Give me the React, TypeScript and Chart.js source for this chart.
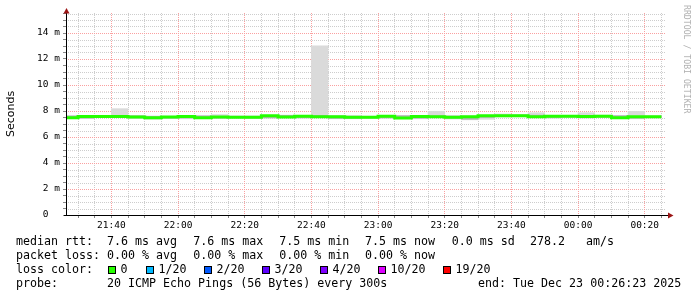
import React, { useEffect, useRef } from "react";
import { Chart, registerables } from "chart.js";

Chart.register(...registerables);

// ---- data ----
const intervalStarts = [
  "21:25", "21:30", "21:35", "21:40", "21:45", "21:50", "21:55", "22:00", "22:05", "22:10",
  "22:15", "22:20", "22:25", "22:30", "22:35", "22:40", "22:45", "22:50", "22:55", "23:00",
  "23:05", "23:10", "23:15", "23:20", "23:25", "23:30", "23:35", "23:40", "23:45", "23:50",
  "23:55", "00:00", "00:05", "00:10", "00:15", "00:20",
];
const intervalEnd = "00:25";

// median rtt, ms
const medianRtt = [
  7.58, 7.49, 7.58, 7.58, 7.58, 7.53, 7.49, 7.53, 7.58, 7.49,
  7.53, 7.51, 7.51, 7.64, 7.53, 7.60, 7.55, 7.55, 7.51, 7.51,
  7.60, 7.47, 7.58, 7.55, 7.51, 7.55, 7.63, 7.63, 7.63, 7.55,
  7.60, 7.60, 7.58, 7.60, 7.49, 7.55,
];
// smoke (outer) ms
const smokeLow = [
  7.46, 7.42, 7.50, 7.50, 7.42, 7.38, 7.42, 7.40, 7.50, 7.44,
  7.46, 7.44, 7.45, 7.58, 7.44, 7.52, 7.40, 7.40, 7.44, 7.44,
  7.52, 7.40, 7.48, 7.38, 7.32, 7.36, 7.54, 7.55, 7.55, 7.44,
  7.50, 7.46, 7.50, 7.50, 7.40, 7.46,
];
const smokeHigh = [
  7.64, 7.60, 7.64, 8.18, 7.66, 7.62, 7.60, 7.62, 7.66, 7.72,
  7.62, 7.62, 7.60, 7.68, 7.62, 13.02, 7.64, 7.63, 7.60, 7.62,
  7.66, 7.58, 7.98, 7.64, 7.62, 7.68, 7.77, 7.72, 7.87, 7.64,
  7.66, 7.87, 7.68, 7.66, 7.97, 7.62,
];
// smoke (core) ms
const coreLow = [
  7.52, 7.45, 7.52, 7.52, 7.48, 7.40, 7.45, 7.46, 7.53, 7.46,
  7.48, 7.47, 7.47, 7.60, 7.48, 7.55, 7.43, 7.44, 7.47, 7.47,
  7.55, 7.44, 7.53, 7.45, 7.36, 7.50, 7.58, 7.58, 7.58, 7.50,
  7.55, 7.48, 7.53, 7.55, 7.44, 7.50,
];
const coreHigh = [
  7.62, 7.55, 7.62, 7.64, 7.62, 7.58, 7.55, 7.58, 7.62, 7.55,
  7.58, 7.56, 7.56, 7.67, 7.58, 7.66, 7.60, 7.60, 7.56, 7.56,
  7.64, 7.52, 7.64, 7.60, 7.56, 7.60, 7.68, 7.68, 7.68, 7.60,
  7.64, 7.66, 7.62, 7.64, 7.58, 7.60,
];

const rangeStart = "21:26:23";
const rangeEnd = "00:26:23";
const xTickLabels = ["21:40", "22:00", "22:20", "22:40", "23:00", "23:20", "23:40", "00:00", "00:20"];
const yTickValues = [0, 2, 4, 6, 8, 10, 12, 14];
const yTickLabels = [" 0  ", " 2 m", " 4 m", " 6 m", " 8 m", "10 m", "12 m", "14 m"];

const rttItems = ["median rtt:", "7.6 ms avg", "7.6 ms max", "7.5 ms min", "7.5 ms now", "0.0 ms sd", "278.2   am/s"];
const lossItems = ["packet loss:", "0.00 % avg", "0.00 % max", "0.00 % min", "0.00 % now"];
const lossLabels = ["0", "1/20", "2/20", "3/20", "4/20", "10/20", "19/20"];
const lossColors = ["#26ff00", "#00b8ff", "#0059ff", "#5e00ff", "#7e00ff", "#dd00ff", "#ff0000"];
const probeItems = ["probe:", "20 ICMP Echo Pings (56 Bytes) every 300s"];
const endText = "end: Tue Dec 23 00:26:23 2025";

// ---- helpers ----
function toMin(s: string): number {
  const p = s.split(":").map(Number);
  let h = p[0];
  if (h < 12) h += 24;
  return h * 60 + p[1] + (p[2] || 0) / 60;
}
function fmt(v: number): string {
  const m = Math.round(v) % 1440;
  const h = Math.floor(m / 60);
  const mm = m % 60;
  return String(h).padStart(2, "0") + ":" + String(mm).padStart(2, "0");
}

const xMin = toMin(rangeStart);
const xMax = toMin(rangeEnd);
const majorX = xTickLabels.map(toMin);
const Y_MAX = 202 / 13;

const MAJOR_GRID = "rgb(250,160,160)";
const MINOR_GRID = "rgb(205,205,205)";

const isMajorX = (v: number) => majorX.some((m) => Math.abs(m - v) < 0.01);
const isMajorY = (v: number) => yTickValues.some((m) => Math.abs(m - v) < 0.001);

const gridPlugin = {
  id: "rrdGrid",
  beforeDatasetsDraw(chart: any) {
    const ctx = chart.ctx;
    const a = chart.chartArea;
    const xs = chart.scales.x;
    const ys = chart.scales.y;
    ctx.save();
    const top = Math.round(a.top);
    const bottom = Math.round(a.bottom);
    const left = Math.round(a.left);
    const right = Math.round(a.right);
    const draw = (major: boolean) => {
      ctx.fillStyle = major ? MAJOR_GRID : MINOR_GRID;
      for (const t of ys.ticks) {
        if (isMajorY(t.value) !== major) continue;
        const y = Math.round(ys.getPixelForValue(t.value));
        if (y >= bottom) continue;
        for (let x = left; x < right; x += 2) ctx.fillRect(x, y, 1, 1);
      }
      for (const t of xs.ticks) {
        if (isMajorX(t.value) !== major) continue;
        const x = Math.floor(xs.getPixelForValue(t.value));
        if (x <= left || x >= right) continue;
        for (let y = top; y < bottom; y += 2) ctx.fillRect(x, y, 1, 1);
      }
    };
    draw(false);
    draw(true);
    ctx.restore();
  },
};

const axisPlugin = {
  id: "rrdAxes",
  afterDatasetsDraw(chart: any) {
    const ctx = chart.ctx;
    const a = chart.chartArea;
    ctx.save();
    ctx.strokeStyle = "#000";
    ctx.lineWidth = 1;
    ctx.beginPath();
    ctx.moveTo(a.left + 0.5, a.bottom + 1);
    ctx.lineTo(a.left + 0.5, a.top);
    ctx.moveTo(a.left - 2, a.bottom + 0.5);
    ctx.lineTo(a.right + 2, a.bottom + 0.5);
    ctx.stroke();
    ctx.fillStyle = "#9b1515";
    ctx.beginPath();
    ctx.moveTo(a.left - 2.5, a.top + 0.5);
    ctx.lineTo(a.left + 3.5, a.top + 0.5);
    ctx.lineTo(a.left + 0.5, a.top - 5);
    ctx.closePath();
    ctx.fill();
    ctx.beginPath();
    ctx.moveTo(a.right + 2, a.bottom - 2.5);
    ctx.lineTo(a.right + 2, a.bottom + 3.5);
    ctx.lineTo(a.right + 7.5, a.bottom + 0.5);
    ctx.closePath();
    ctx.fill();
    ctx.restore();
  },
};

export default function App() {
  const ref = useRef<HTMLCanvasElement | null>(null);

  useEffect(() => {
    if (!ref.current) return;
    const starts = intervalStarts.map(toMin);
    const endX = toMin(intervalEnd);
    const centers = starts.map((s, i) => (s + (i + 1 < starts.length ? starts[i + 1] : endX)) / 2);

    const linePts = starts.map((s, i) => ({ x: s, y: medianRtt[i] }));
    linePts.push({ x: endX, y: medianRtt[medianRtt.length - 1] });

    const xTicks: number[] = [];
    for (let v = Math.ceil(xMin / 5) * 5; v <= xMax; v += 5) xTicks.push(v);
    const yTicks: number[] = [];
    for (let v = 0; v <= Y_MAX; v += 0.5) yTicks.push(v);

    const chart = new Chart(ref.current, {
      type: "bar",
      data: {
        datasets: [
          {
            type: "line",
            label: "median",
            data: linePts,
            borderColor: "#26ff00",
            borderWidth: 3,
            stepped: "after",
            pointRadius: 0,
            fill: false,
            borderCapStyle: "butt",
            order: 0,
          } as any,
          {
            label: "core",
            data: centers.map((c, i) => ({ x: c, y: [coreLow[i], coreHigh[i]] })),
            backgroundColor: "#b4b4b4",
            borderWidth: 0,
            barPercentage: 1,
            categoryPercentage: 1,
            grouped: false,
            order: 1,
          } as any,
          {
            label: "smoke",
            data: centers.map((c, i) => ({ x: c, y: [smokeLow[i], smokeHigh[i]] })),
            backgroundColor: "#dadada",
            borderWidth: 0,
            barPercentage: 1,
            categoryPercentage: 1,
            grouped: false,
            order: 2,
          } as any,
        ],
      },
      options: {
        responsive: false,
        animation: false,
        events: [],
        layout: { padding: { left: 0, right: 31, top: 13, bottom: 0 } },
        plugins: { legend: { display: false }, tooltip: { enabled: false } },
        scales: {
          x: {
            type: "linear",
            min: xMin,
            max: xMax,
            offset: false,
            afterFit: (s: any) => {
              s.height = 82;
            },
            afterBuildTicks: (s: any) => {
              s.ticks = xTicks.map((v) => ({ value: v }));
            },
            grid: {
              offset: false,
              drawOnChartArea: false,
              drawTicks: true,
              tickLength: 3,
              tickColor: "#888",
            },
            border: { display: false },
            ticks: {
              autoSkip: false,
              maxRotation: 0,
              padding: 2,
              color: "#000",
              font: { family: "DejaVu Sans Mono", size: 9.5 },
              callback: (v: any) => (isMajorX(v) ? fmt(v) : ""),
            },
          },
          y: {
            type: "linear",
            min: 0,
            max: Y_MAX,
            afterFit: (s: any) => {
              s.width = 66;
            },
            afterBuildTicks: (s: any) => {
              s.ticks = yTicks.map((v) => ({ value: v }));
            },
            grid: {
              drawOnChartArea: false,
              drawTicks: true,
              tickLength: 3,
              tickColor: "#888",
            },
            border: { display: false },
            title: {
              display: true,
              text: "Seconds",
              color: "#000",
              font: { family: "DejaVu Sans", size: 11 },
              padding: { top: 5, bottom: 0 },
            },
            ticks: {
              autoSkip: false,
              padding: 3,
              color: "#000",
              font: { family: "DejaVu Sans Mono", size: 9.5 },
              callback: (v: any) => {
                const i = yTickValues.findIndex((m) => Math.abs(m - v) < 0.001);
                return i >= 0 ? yTickLabels[i] : "";
              },
            },
          },
        },
      } as any,
      plugins: [gridPlugin, axisPlugin],
    });
    return () => chart.destroy();
  }, []);

  const mono: React.CSSProperties = {
    position: "absolute",
    fontFamily: "'DejaVu Sans Mono', monospace",
    fontSize: "11.65px",
    lineHeight: "14px",
    height: 14,
    whiteSpace: "pre",
    color: "#000",
  };
  const colX = [16, 107, 193.3, 279.3, 365, 451.7, 530];
  const boxX = [107.5, 145.5, 203.5, 261.5, 319.5, 377.5, 442.5];

  return (
    <div style={{ position: "absolute", left: 0, top: 0, width: 697, height: 297, background: "#fff", overflow: "hidden" }}>
      <canvas ref={ref} width={697} height={297} style={{ position: "absolute", left: 0, top: 0, width: 697, height: 297 }} />
      <div
        style={{
          position: "absolute",
          left: 692,
          top: 5,
          transformOrigin: "0 0",
          transform: "rotate(90deg)",
          fontFamily: "'DejaVu Sans Mono', monospace",
          fontSize: "8.2px",
          lineHeight: "10px",
          whiteSpace: "pre",
          color: "#b0b0b0",
        }}
      >
        RRDTOOL / TOBI OETIKER
      </div>
      {rttItems.map((t, i) => (
        <div key={"r" + i} style={{ ...mono, left: colX[i], top: 234 }}>{t}</div>
      ))}
      {lossItems.map((t, i) => (
        <div key={"l" + i} style={{ ...mono, left: colX[i], top: 248 }}>{t}</div>
      ))}
      <div style={{ ...mono, left: 16, top: 262 }}>loss color:</div>
      {lossLabels.map((l, i) => (
        <React.Fragment key={l}>
          <div
            style={{
              position: "absolute",
              left: boxX[i],
              top: 266,
              width: 6,
              height: 6,
              border: "1px solid #000",
              background: lossColors[i],
            }}
          />
          <div style={{ ...mono, left: boxX[i] + 13, top: 262 }}>{l}</div>
        </React.Fragment>
      ))}
      {probeItems.map((t, i) => (
        <div key={"p" + i} style={{ ...mono, left: colX[i], top: 276 }}>{t}</div>
      ))}
      <div style={{ ...mono, left: 478, top: 276 }}>{endText}</div>
    </div>
  );
}
